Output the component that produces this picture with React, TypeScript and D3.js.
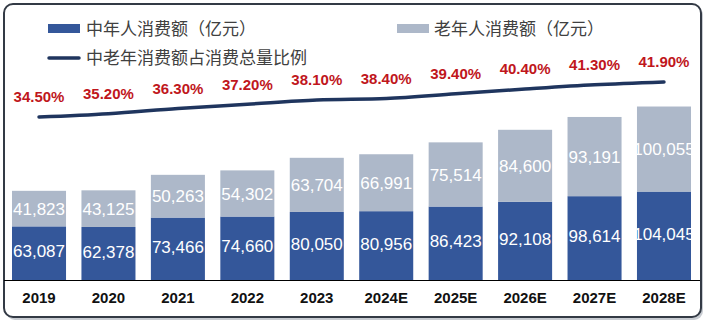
import React from "react";
import * as d3 from "d3";

const years = ["2019", "2020", "2021", "2022", "2023", "2024E", "2025E", "2026E", "2027E", "2028E"];
const middleAged = [63087, 62378, 73466, 74660, 80050, 80956, 86423, 92108, 98614, 104045];
const elderly = [41823, 43125, 50263, 54302, 63704, 66991, 75514, 84600, 93191, 100055];
const shares = [34.5, 35.2, 36.3, 37.2, 38.1, 38.4, 39.4, 40.4, 41.3, 41.9];
const legendLabels = ["中年人消费额（亿元）", "老年人消费额（亿元）", "中老年消费额占消费总量比例"];

const W = 709;
const H = 323;
const DARK = "#34579a";
const LIGHT = "#adb8c9";
const NAVY = "#1f355e";
const RED = "#c0161c";

export default function App() {
  const x = d3.scaleBand<string>().domain(years).range([4.3, 698.7]).paddingInner(0.222).paddingOuter(0.111);
  const y = d3.scaleLinear().domain([0, 240000]).range([280, 76]);
  const yp = d3.scaleLinear().domain([34.5, 41.9]).range([117, 82]);
  const bw = x.bandwidth();
  const fmt = d3.format(",");

  const line = d3
    .line<number>()
    .x((_, i) => (x(years[i]) as number) + bw / 2)
    .y((d) => yp(d))
    .curve(d3.curveMonotoneX);

  const sans = "'Liberation Sans', Arial, sans-serif";
  const cjk = "'Noto Sans CJK SC', 'Noto Sans', sans-serif";

  return (
    <svg width={W} height={H} style={{ position: "absolute", left: 0, top: 0, background: "#fff" }}>
      <defs>
        {years.map((yr, i) => (
          <clipPath id={`clip${i}`} key={yr}>
            <rect x={x(yr)} y={0} width={bw} height={H} />
          </clipPath>
        ))}
      </defs>
      {/* frame */}
      <rect x={6} y={6} width={697} height={314} rx={9} fill="#c8ccd2" />
      <rect x={4} y={4} width={697} height={313} rx={9} fill="#fff" stroke="#333a45" strokeWidth={2} />

      {/* legend */}
      <rect x={48} y={24} width={32} height={9} fill={DARK} />
      <text x={86} y={29} dy="0.36em" fontFamily={cjk} fontSize={17} fill="#404040">{legendLabels[0]}</text>
      <rect x={397} y={24} width={32} height={9} fill={LIGHT} />
      <text x={434} y={29} dy="0.36em" fontFamily={cjk} fontSize={17} fill="#404040">{legendLabels[1]}</text>
      <line x1={49} x2={79} y1={58} y2={58} stroke={NAVY} strokeWidth={3.5} strokeLinecap="round" />
      <text x={86} y={58} dy="0.36em" fontFamily={cjk} fontSize={17} fill="#404040">{legendLabels[2]}</text>

      {/* bars */}
      {years.map((yr, i) => {
        const bx = x(yr) as number;
        const y0 = y(0);
        const y1 = y(middleAged[i]);
        const y2 = y(middleAged[i] + elderly[i]);
        return (
          <g key={yr}>
            <rect x={bx} y={y1} width={bw} height={y0 - y1} fill={DARK} />
            <rect x={bx} y={y2} width={bw} height={y1 - y2} fill={LIGHT} />
            <g clipPath={`url(#clip${i})`}>
              <text x={bx + bw / 2} y={(y0 + y1) / 2 - 2} dy="0.36em" textAnchor="middle" fontFamily={sans} fontSize={17} fill="#fff">
                {fmt(middleAged[i])}
              </text>
              <text x={bx + bw / 2} y={(y1 + y2) / 2} dy="0.36em" textAnchor="middle" fontFamily={sans} fontSize={17} fill="#fff">
                {fmt(elderly[i])}
              </text>
            </g>
            <text x={bx + bw / 2} y={298} dy="0.36em" textAnchor="middle" fontFamily={sans} fontSize={15} fontWeight="bold" fill="#111">
              {yr}
            </text>
          </g>
        );
      })}

      {/* axis */}
      <line x1={4} x2={700} y1={280.5} y2={280.5} stroke="#000" strokeWidth={1} />

      {/* share line */}
      <path d={line(shares) || ""} fill="none" stroke={NAVY} strokeWidth={3.5} strokeLinecap="round" />
      {shares.map((s, i) => (
        <text
          key={i}
          x={(x(years[i]) as number) + bw / 2}
          y={yp(s) - 20}
          dy="0.36em"
          textAnchor="middle"
          fontFamily={sans}
          fontSize={15}
          fontWeight="bold"
          fill={RED}
        >
          {s.toFixed(2)}%
        </text>
      ))}
    </svg>
  );
}
